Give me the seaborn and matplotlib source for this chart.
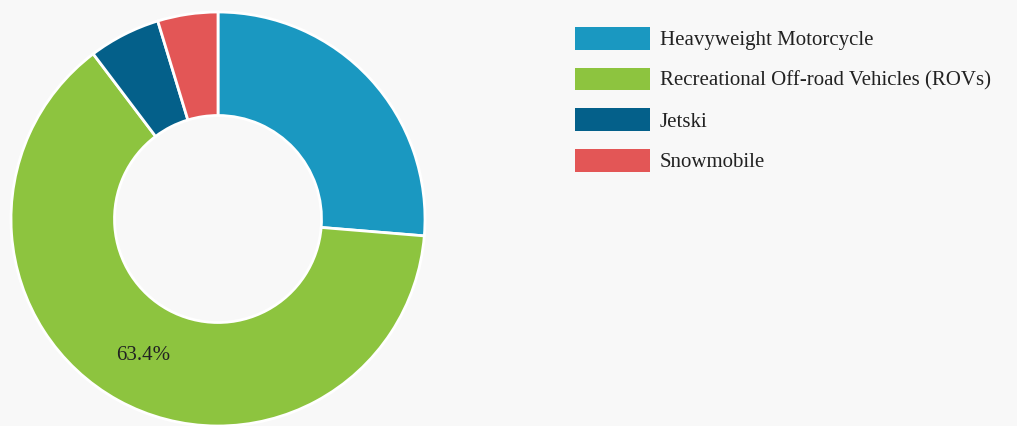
import matplotlib
matplotlib.use("Agg")
import matplotlib.pyplot as plt
import seaborn as sns
from matplotlib.patches import Patch

categories = ["Heavyweight Motorcycle", "Recreational Off-road Vehicles (ROVs)", "Jetski", "Snowmobile"]
values = [26.3, 63.4, 5.6, 4.7]
colors = ["#1a98c1", "#8dc43f", "#04608a", "#e35656"]

sns.set_style("white")
plt.rcParams['font.family'] = ['Liberation Serif', 'DejaVu Serif']

W, H = 1017, 426
fig = plt.figure(figsize=(W / 100, H / 100), dpi=100)
bg = "#f8f8f8"
fig.patch.set_facecolor(bg)

cx, cy, r = 218, 219, 207
ax = fig.add_axes([(cx - r) / W, (H - cy - r) / H, 2 * r / W, 2 * r / H])
ax.set_facecolor(bg)

wedges, texts, autotexts = ax.pie(
    values, colors=colors, startangle=90, counterclock=False, radius=1,
    wedgeprops=dict(width=0.5, edgecolor="white", linewidth=2),
    autopct=lambda p: f"{p:.1f}%" if p >= 30 else "",
    pctdistance=0.75, textprops=dict(fontsize=15, color="#222222"))
ax.set_xlim(-1, 1)
ax.set_ylim(-1, 1)
ax.set_aspect("equal")
ax.axis("off")

fs = 15
px = fs * 100 / 72
handles = [Patch(facecolor=c, edgecolor="none") for c in colors]
fig.legend(handles, categories, loc="upper left",
           bbox_to_anchor=(575 / W, 1 - 27 / H), bbox_transform=fig.transFigure,
           frameon=False, borderpad=0, borderaxespad=0,
           fontsize=fs, handlelength=75 / px, handleheight=1.29,
           handletextpad=10 / px, labelspacing=0.835,
           labelcolor="#222222")

fig.savefig("out.png", dpi=100, facecolor=bg)
